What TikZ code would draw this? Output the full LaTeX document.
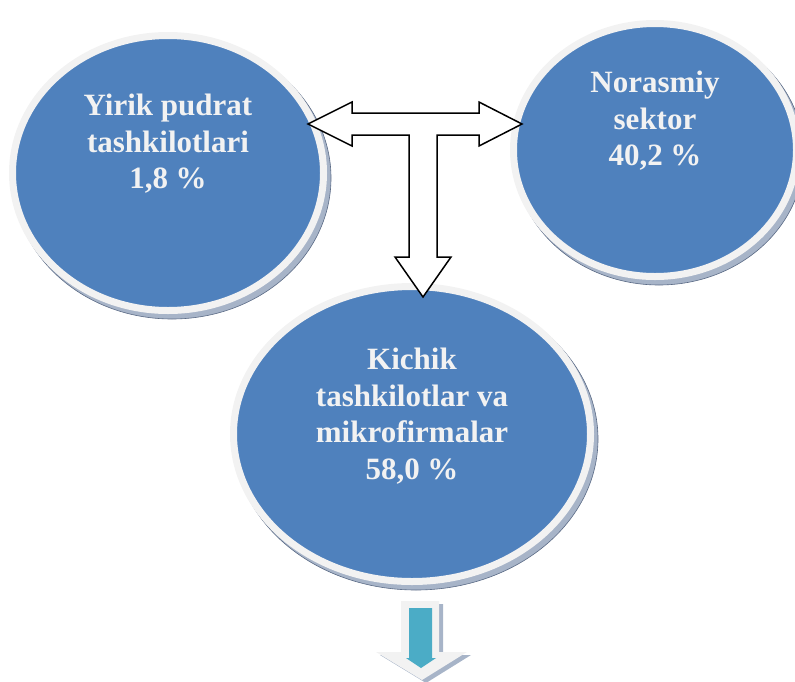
\documentclass[tikz,border=0pt]{standalone}
\usepackage{fontspec}
\setmainfont{Liberation Serif}
\usetikzlibrary{shapes.geometric,positioning}
\definecolor{doirarang}{HTML}{4F81BD}
\definecolor{chetrang}{HTML}{F2F2F2}
\definecolor{yozuvrang}{HTML}{F2F2F2}
\definecolor{soyarang}{HTML}{A7B4C8}
\definecolor{soyachiziq}{HTML}{5A6A85}
\definecolor{strelkarang}{HTML}{4BACC6}

\begin{document}
\begin{tikzpicture}[x=1pt,y=-1pt,
                doira/.style={ellipse,inner sep=0pt,fill=doirarang,draw=chetrang,line width=7pt},
                soya/.style={ellipse,inner sep=0pt,fill=soyarang,draw=soyachiziq,line width=0.6pt},
                yozuv/.style={text=yozuvrang,align=center,inner sep=0pt,
                        font=\bfseries\fontsize{31}{36.5}\selectfont}]
                \useasboundingbox (0,0) rectangle (795,681);
                \clip (0,0) rectangle (795,681);
                % soyalar
                \node [soya,minimum width=318,minimum height=282] at (172,178) {};
                \node [soya,minimum width=290,minimum height=260] at (659,155) {};
                \node [soya,minimum width=364,minimum height=302] at (416,439) {};
                % doiralar
                \node (yirik) [doira,minimum width=311,minimum height=275] at (168,173) {};
                \node (norasmiy) [doira,minimum width=283,minimum height=253] at (655,150) {};
                \node (kichik) [doira,minimum width=357,minimum height=295] at (412,434) {};
                \node (yirikmatn) [yozuv] at ([yshift=29pt]yirik.center) {Yirik pudrat\\tashkilotlari\\1,8 \%};
                \node (norasmiymatn) [yozuv] at ([yshift=29pt]norasmiy.center) {Norasmiy\\sektor\\40,2 \%};
                \node (kichikmatn) [yozuv] at ([yshift=18pt]kichik.center) {Kichik\\tashkilotlar va\\mikrofirmalar\\58,0 \%};
                % ikki tomonlama va pastga strelka
                \draw [fill=white,line width=1.5pt,line join=miter] (308,124) -- (352,102) -- (352,113) -- (479,113) -- (479,102) -- (522,124)
                        -- (479,146) -- (479,135) -- (437,135) -- (437,257) -- (451,257) -- (423,297) -- (395,257)
                        -- (409,257) -- (409,135) -- (352,135) -- (352,146) -- cycle;
                % pastki strelka
                \fill [soyarang] (405,604) -- (443,604) -- (443,655) -- (471,655) -- (426,683) -- (380,655) -- (405,655) -- cycle;
                \fill [chetrang] (401,601) -- (439,601) -- (439,652) -- (467,652) -- (422,680) -- (376,652) -- (401,652) -- cycle;
                \fill [strelkarang] (409,608) -- (432,608) -- (432,658) -- (436,658) -- (421,668) -- (406,658) -- (409,658) -- cycle;
            \end{tikzpicture}
\end{document}
